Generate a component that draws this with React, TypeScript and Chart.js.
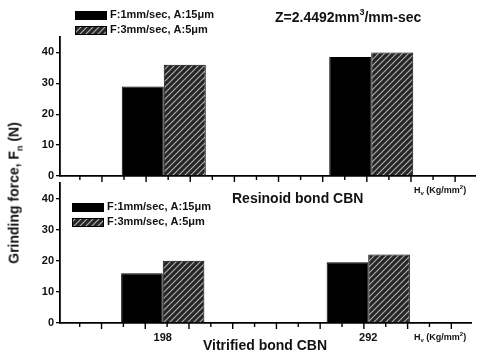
import { useEffect, useRef } from "react";
import { Chart, registerables } from "chart.js";

Chart.register(...registerables);

// ---- data ----
const categories = ["", "198", "", "292", ""];
const hardnessAtCategory = [198, 292]; // category index 1 and 3
const seriesNames = ["F:1mm/sec, A:15\u03BCm", "F:3mm/sec, A:5\u03BCm"];
const resinoidSlow = [null, 29, null, 38.5, null];
const resinoidFast = [null, 36, null, 40, null];
const vitrifiedSlow = [null, 16, null, 19.5, null];
const vitrifiedFast = [null, 20, null, 22, null];
const xMinorTicks = [160, 170, 180, 190, 200, 210, 220, 230, 240, 250, 260, 270, 280, 290, 300, 310, 320, 330];
const yMax = 45;
const yStep = 5;
const yLabelStep = 10;

const FONT = "'Liberation Sans', Arial, sans-serif";

function makeHatch(): CanvasPattern | string {
  const c = document.createElement("canvas");
  c.width = 6;
  c.height = 6;
  const g = c.getContext("2d");
  if (!g) return "#333";
  g.fillStyle = "#262626";
  g.fillRect(0, 0, 6, 6);
  g.strokeStyle = "#b0b0b0";
  g.lineWidth = 1.1;
  g.beginPath();
  g.moveTo(-1, 7);
  g.lineTo(7, -1);
  g.moveTo(-4, 4);
  g.lineTo(4, -4);
  g.moveTo(2, 10);
  g.lineTo(10, 2);
  g.stroke();
  return g.createPattern(c, "repeat") || "#333";
}

type Seg = { t: string; mode?: "sup" | "sub" };

function drawRich(
  ctx: CanvasRenderingContext2D,
  segs: Seg[],
  x: number,
  y: number,
  size: number,
  weight = "normal",
  align: "left" | "center" = "left"
) {
  ctx.textBaseline = "middle";
  ctx.textAlign = "left";
  ctx.fillStyle = "#111";
  let total = 0;
  for (const s of segs) {
    const fs = s.mode ? Math.round(size * 0.65) : size;
    ctx.font = `${weight} ${fs}px ${FONT}`;
    total += ctx.measureText(s.t).width;
  }
  let cx = align === "center" ? x - total / 2 : x;
  for (const s of segs) {
    const fs = s.mode ? Math.round(size * 0.65) : size;
    ctx.font = `${weight} ${fs}px ${FONT}`;
    const dy = s.mode === "sup" ? -size * 0.4 : s.mode === "sub" ? size * 0.3 : 0;
    ctx.fillText(s.t, cx, y + dy);
    cx += ctx.measureText(s.t).width;
  }
}

function drawLegend(ctx: CanvasRenderingContext2D, x: number, y: number, pattern: CanvasPattern | string) {
  const fills = ["#000", pattern];
  seriesNames.forEach((name, i) => {
    const yy = y + i * 15;
    ctx.fillStyle = fills[i] as any;
    ctx.fillRect(x, yy - 4, 32, 9);
    ctx.strokeStyle = "#000";
    ctx.lineWidth = 1;
    ctx.strokeRect(x + 0.5, yy - 3.5, 31, 8);
    drawRich(ctx, [{ t: name }], x + 35, yy, 11, "bold");
  });
}

const hvLabel: Seg[] = [{ t: "H" }, { t: "v", mode: "sub" }, { t: " (Kg/mm" }, { t: "2", mode: "sup" }, { t: ")" }];

function minorTicksPlugin(id: string) {
  return {
    id,
    afterDraw(chart: any) {
      const ctx = chart.ctx as CanvasRenderingContext2D;
      const xs = chart.scales.x;
      const p1 = xs.getPixelForValue(1);
      const p3 = xs.getPixelForValue(3);
      const k = (p3 - p1) / (hardnessAtCategory[1] - hardnessAtCategory[0]);
      const b = chart.chartArea.bottom;
      ctx.save();
      ctx.strokeStyle = "#000";
      ctx.lineWidth = 1.4;
      xMinorTicks.forEach((v, i) => {
        const px = p1 + (v - hardnessAtCategory[0]) * k;
        ctx.beginPath();
        ctx.moveTo(px, b);
        ctx.lineTo(px, b + (i % 2 === 0 ? 4 : 6));
        ctx.stroke();
      });
      ctx.restore();
    },
  };
}

function baseOptions(padTop: number, padBottom: number, xHeight: number, showX: boolean): any {
  return {
    animation: false,
    responsive: false,
    devicePixelRatio: 1,
    events: [],
    layout: { padding: { top: padTop, bottom: padBottom, left: 0, right: 4 } },
    plugins: { legend: { display: false }, tooltip: { enabled: false } },
    scales: {
      x: {
        type: "category",
        offset: false,
        grid: { display: true, drawOnChartArea: false, drawTicks: false, offset: false, color: "#000" },
        border: { display: true, color: "#000", width: 1.8 },
        ticks: {
          display: showX,
          autoSkip: false,
          maxRotation: 0,
          padding: 8,
          color: "#111",
          font: { family: FONT, size: 11, weight: "bold" },
        },
        afterFit: (s: any) => {
          s.height = xHeight;
        },
      },
      y: {
        min: 0,
        max: yMax,
        grid: { display: true, drawOnChartArea: false, tickLength: 4, color: "#000", lineWidth: 1.3 },
        border: { display: true, color: "#000", width: 1.8 },
        ticks: {
          stepSize: yStep,
          padding: 2,
          color: "#111",
          font: { family: FONT, size: 11, weight: "bold" },
          callback: (v: number) => (v % yLabelStep === 0 ? String(v) : ""),
        },
        afterFit: (s: any) => {
          s.width = 60;
        },
      },
    },
  };
}

export default function App() {
  const topRef = useRef<HTMLCanvasElement>(null);
  const botRef = useRef<HTMLCanvasElement>(null);

  useEffect(() => {
    const hatch = makeHatch();
    const barStyle = { categoryPercentage: 0.81, barPercentage: 1, borderColor: "#000", borderWidth: 1 };

    const topChart = new Chart(topRef.current as HTMLCanvasElement, {
      type: "bar",
      data: {
        labels: categories,
        datasets: [
          { label: seriesNames[0], data: resinoidSlow, backgroundColor: "#000", ...barStyle } as any,
          { label: seriesNames[1], data: resinoidFast, backgroundColor: hatch, ...barStyle } as any,
        ],
      },
      options: baseOptions(37, 172, 6, false),
      plugins: [
        minorTicksPlugin("minorTop"),
        {
          id: "textTop",
          afterDraw(chart: any) {
            const ctx = chart.ctx as CanvasRenderingContext2D;
            ctx.save();
            drawLegend(ctx, 75, 15, hatch);
            drawRich(ctx, [{ t: "Z=2.4492mm" }, { t: "3", mode: "sup" }, { t: "/mm-sec" }], 275, 18, 14, "bold");
            ctx.restore();
          },
        },
      ],
    });

    const botChart = new Chart(botRef.current as HTMLCanvasElement, {
      type: "bar",
      data: {
        labels: categories,
        datasets: [
          { label: seriesNames[0], data: vitrifiedSlow, backgroundColor: "#000", ...barStyle } as any,
          { label: seriesNames[1], data: vitrifiedFast, backgroundColor: hatch, ...barStyle } as any,
        ],
      },
      options: baseOptions(183, 0, 31, true),
      plugins: [
        minorTicksPlugin("minorBot"),
        {
          id: "textBot",
          afterDraw(chart: any) {
            const ctx = chart.ctx as CanvasRenderingContext2D;
            ctx.save();
            drawLegend(ctx, 72, 207, hatch);
            drawRich(ctx, [{ t: "Resinoid bond CBN" }], 232, 199, 14, "bold");
            drawRich(ctx, hvLabel, 414, 191, 9, "bold");
            drawRich(ctx, hvLabel, 414, 338, 9, "bold");
            drawRich(ctx, [{ t: "Vitrified bond CBN" }], 265, 346, 14, "bold", "center");
            ctx.restore();
          },
        },
      ],
    });

    return () => {
      topChart.destroy();
      botChart.destroy();
    };
  }, []);

  return (
    <div style={{ position: "fixed", left: 0, top: 0, width: 479, height: 354, background: "#fff", overflow: "hidden" }}>
      <canvas ref={topRef} width={479} height={354} style={{ position: "absolute", left: 0, top: 0, width: 479, height: 354 }} />
      <canvas ref={botRef} width={479} height={354} style={{ position: "absolute", left: 0, top: 0, width: 479, height: 354 }} />
      <div
        style={{
          position: "absolute",
          left: 15,
          top: 193,
          transform: "translate(-50%, -50%) rotate(-90deg)",
          whiteSpace: "nowrap",
          fontFamily: FONT,
          fontSize: 14,
          fontWeight: "bold",
          color: "#111",
        }}
      >
        Grinding force, F<sub style={{ fontSize: 9 }}>n</sub> (N)
      </div>
    </div>
  );
}
